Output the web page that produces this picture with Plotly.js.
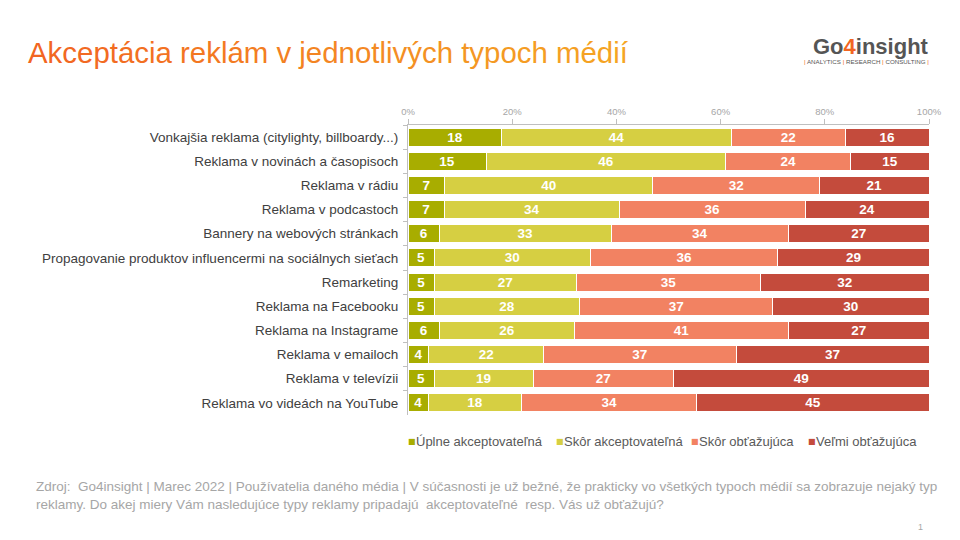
<!DOCTYPE html>
<html>
<head>
<meta charset="utf-8">
<script src="https://cdn.plot.ly/plotly-3.0.1.min.js"></script>
<style>body{margin:0;background:#fff;}#chart{width:960px;height:540px;}</style>
</head>
<body>
<div id="chart"></div>
<script>
var categories = [
  "Vonkajšia reklama (citylighty, billboardy...)",
  "Reklama v novinách a časopisoch",
  "Reklama v rádiu",
  "Reklama v podcastoch",
  "Bannery na webových stránkach",
  "Propagovanie produktov influencermi na sociálnych sieťach",
  "Remarketing",
  "Reklama na Facebooku",
  "Reklama na Instagrame",
  "Reklama v emailoch",
  "Reklama v televízii",
  "Reklama vo videách na YouTube"
];
var seriesNames = ["Úplne akceptovateľná", "Skôr akceptovateľná", "Skôr obťažujúca", "Veľmi obťažujúca"];
var uplneAkcept = [18, 15, 7, 7, 6, 5, 5, 5, 6, 4, 5, 4];
var skorAkcept  = [44, 46, 40, 34, 33, 30, 27, 28, 26, 22, 19, 18];
var skorObtaz   = [22, 24, 32, 36, 34, 36, 35, 37, 41, 37, 27, 34];
var velmiObtaz  = [16, 15, 21, 24, 27, 29, 32, 30, 27, 37, 49, 45];
var tickVals = [0, 20, 40, 60, 80, 100];
var tickLabels = ["0%", "20%", "40%", "60%", "80%", "100%"];

var colors = ["#a8ad00", "#d6cf42", "#f28262", "#c44b3c"];
var allSeries = [uplneAkcept, skorAkcept, skorObtaz, velmiObtaz];

var traces = allSeries.map(function (vals, i) {
  return {
    type: "bar",
    orientation: "h",
    name: seriesNames[i],
    y: categories,
    x: vals,
    text: vals.map(String),
    textposition: "inside",
    insidetextanchor: "middle",
    textangle: 0,
    constraintext: "none",
    textfont: {family: "Liberation Sans Narrow, Arial Narrow, Liberation Sans, Arial", size: 13.5, color: "#ffffff", weight: "bold"},
    marker: {color: colors[i], line: {color: "#ffffff", width: 1}},
    hoverinfo: "none"
  };
});

// plot-area helpers (pixel -> paper)
var L = 408, R = 929, T = 125, B = 415;
function px(x) { return (x - L) / (R - L); }
function py(y) { return (B - y) / (B - T); }

// gradient-like title
var titleStr = "Akceptácia reklám v jednotlivých typoch médií";
function lerp(a, b, t) { return Math.round(a + (b - a) * t); }
var c0 = [242, 101, 34], c1 = [245, 166, 35];
var titleHtml = "";
for (var k = 0; k < titleStr.length; k++) {
  var t = k / (titleStr.length - 1);
  var col = "rgb(" + lerp(c0[0], c1[0], t) + "," + lerp(c0[1], c1[1], t) + "," + lerp(c0[2], c1[2], t) + ")";
  titleHtml += '<span style="color:' + col + '">' + titleStr[k] + '</span>';
}

var annotations = [
  {xref: "paper", yref: "paper", x: px(26), y: py(52), xanchor: "left", yanchor: "middle",
   text: titleHtml, showarrow: false, font: {size: 29.4, family: "Liberation Sans, Arial, sans-serif"}},
  {xref: "paper", yref: "paper", x: px(931), y: py(47), xanchor: "right", yanchor: "middle",
   text: '<b><span style="color:#555555">Go</span><span style="color:#f26522">4</span><span style="color:#555555">insight</span></b>',
   showarrow: false, font: {size: 22, family: "Liberation Sans, Arial, sans-serif"}},
  {xref: "paper", yref: "paper", x: px(931), y: py(62), xanchor: "right", yanchor: "middle",
   text: '<span style="color:#f26522">|</span> ANALYTICS <span style="color:#f26522">|</span> RESEARCH <span style="color:#f26522">|</span> CONSULTING <span style="color:#f26522">|</span>',
   showarrow: false, font: {size: 6.2, color: "#555555", family: "Liberation Sans, Arial, sans-serif"}},
  {xref: "paper", yref: "paper", x: px(34), y: py(495), xanchor: "left", yanchor: "middle", align: "left",
   text: "Zdroj:  Go4insight | Marec 2022 | Používatelia daného média | V súčasnosti je už bežné, že prakticky vo všetkých typoch médií sa zobrazuje nejaký typ<br>reklamy. Do akej miery Vám nasledujúce typy reklamy pripadajú  akceptovateľné  resp. Vás už obťažujú?",
   showarrow: false, font: {size: 13.5, color: "#a6a6a6", family: "Liberation Sans, Arial, sans-serif"}},
  {xref: "paper", yref: "paper", x: px(925), y: py(527), xanchor: "right", yanchor: "middle",
   text: "1", showarrow: false, font: {size: 9, color: "#a6a6a6"}}
];

// legend drawn as text entries (small square + label)
var legendSquareX = [410, 558, 693, 810];
seriesNames.forEach(function (nm, i) {
  annotations.push({xref: "paper", yref: "paper", x: px(legendSquareX[i] - 4), y: py(441), xanchor: "left", yanchor: "middle",
    text: '<span style="color:' + colors[i] + '">■</span>', showarrow: false,
    font: {size: 8, family: "DejaVu Sans, sans-serif"}});
  annotations.push({xref: "paper", yref: "paper", x: px(legendSquareX[i] + 4), y: py(441), xanchor: "left", yanchor: "middle",
    text: nm, showarrow: false, font: {size: 13, color: "#595959", family: "Liberation Sans, Arial, sans-serif"}});
});

var layout = {
  width: 960, height: 540,
  margin: {l: L, r: 960 - R, t: T, b: 540 - B},
  paper_bgcolor: "#ffffff",
  plot_bgcolor: "#ffffff",
  barmode: "stack",
  barnorm: "percent",
  bargap: 0.25,
  font: {family: "Liberation Sans, Arial, sans-serif", color: "#404040", size: 12},
  showlegend: false,
  xaxis: {
    side: "top", range: [0, 100], tickvals: tickVals, ticktext: tickLabels,
    showgrid: false, zeroline: false, showline: true, linecolor: "#bfbfbf", linewidth: 1,
    ticks: "outside", ticklen: 5, tickcolor: "#bfbfbf",
    tickfont: {size: 9.5, color: "#a6a6a6"}, fixedrange: true
  },
  yaxis: {
    autorange: "reversed", showgrid: false, zeroline: false, showline: true,
    linecolor: "#bfbfbf", linewidth: 1, ticks: "outside", ticklen: 4, tickcolor: "#bfbfbf",
    tickson: "boundaries", ticklabelstandoff: 6,
    tickfont: {size: 13.5, color: "#404040"}, fixedrange: true
  },
  annotations: annotations
};

Plotly.newPlot("chart", traces, layout, {displayModeBar: false, staticPlot: true});
</script>
</body>
</html>
